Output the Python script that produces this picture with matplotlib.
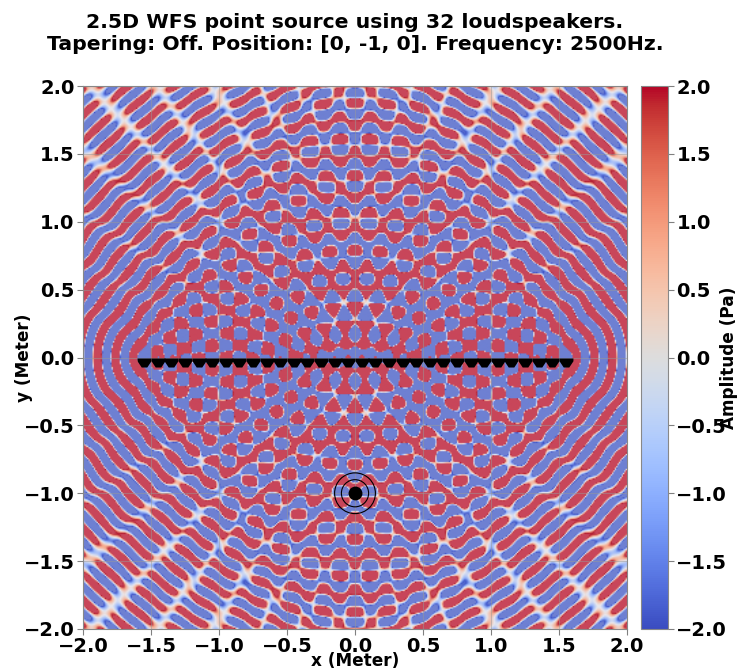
import numpy as np
import matplotlib
matplotlib.use("Agg")
import matplotlib.pyplot as plt
from matplotlib.colors import LinearSegmentedColormap
from matplotlib.path import Path
from matplotlib.patches import Circle

TITLE = "2.5D WFS point source using 32 loudspeakers.\nTapering: Off. Position: [0, -1, 0]. Frequency: 2500Hz."
XLABEL = "x (Meter)"
YLABEL = "y (Meter)"
CBAR_LABEL = "Amplitude (Pa)"
ticks = [-2.0, -1.5, -1.0, -0.5, 0.0, 0.5, 1.0, 1.5, 2.0]
speaker_x = [-1.55, -1.45, -1.35, -1.25, -1.15, -1.05, -0.95, -0.85, -0.75, -0.65, -0.55, -0.45, -0.35, -0.25, -0.15, -0.05,
             0.05, 0.15, 0.25, 0.35, 0.45, 0.55, 0.65, 0.75, 0.85, 0.95, 1.05, 1.15, 1.25, 1.35, 1.45, 1.55]
speaker_y = [0.0] * 32
source_xy = (0.0, -1.0)
frequency = 2500.0
sound_speed = 343.0
ring_radii = [0.1, 0.15]

PHASE = np.radians(60)
GAIN = 9.0
LIMIT = 2.0

k = 2 * np.pi * frequency / sound_speed
axis = np.linspace(-2, 2, 400)
X, Y = np.meshgrid(axis, axis)
p = np.zeros_like(X, dtype=complex)
for sx, sy in zip(speaker_x, speaker_y):
    r0 = np.hypot(sx - source_xy[0], sy - source_xy[1])
    D = np.exp(-1j * k * r0)
    r = np.hypot(X - sx, Y - sy) + 1e-3
    p += D * np.exp(-1j * k * r) / r
field = (p * np.exp(1j * PHASE)).real
field = np.clip(GAIN * field / field.std(), -LIMIT, LIMIT)

field_colors = [(0.0, (110, 128, 210)), (0.075, (62, 84, 200)), (0.25, (150, 180, 250)), (0.5, (232, 232, 238)),
                (0.75, (246, 172, 142)), (0.925, (180, 30, 50)), (1.0, (200, 70, 90))]
field_cmap = LinearSegmentedColormap.from_list("field", [(v, tuple(c / 255 for c in rgb)) for v, rgb in field_colors])

plt.rcParams["font.weight"] = "bold"
plt.rcParams["axes.labelweight"] = "bold"
fig = plt.figure(figsize=(7.39, 6.71), dpi=100)
ax = fig.add_axes([83 / 739, 1 - 629 / 671, 544 / 739, 543 / 671])
im = ax.imshow(field, extent=[-2, 2, -2, 2], origin="lower", cmap=field_cmap, vmin=-2, vmax=2,
               interpolation="bilinear", aspect="auto")
tick_text = [f"{t:.1f}".replace("-", "\u2212") for t in ticks]
ax.set_xticks(ticks)
ax.set_yticks(ticks)
ax.set_xticklabels(tick_text, fontsize=14)
ax.set_yticklabels(tick_text, fontsize=14)
ax.tick_params(color="#808080", length=4, pad=2)
ax.grid(True, color="#999999", alpha=0.5, linewidth=0.8)
for s in ax.spines.values():
    s.set_color("#888888")
ax.set_xlabel(XLABEL, fontsize=12.2, labelpad=-3)
ax.set_ylabel(YLABEL, fontsize=12.2, labelpad=-7)
ax.set_title(TITLE, fontsize=14.7, fontweight="bold", pad=26)

marker = Path([(-1, 0), (1, 0), (1, -0.4), (0.4, -1.3), (-0.4, -1.3), (-1, -0.4), (-1, 0)], closed=True)
ax.plot(speaker_x, speaker_y, ls="none", marker=marker, ms=13, color="black", mew=0, zorder=5)
ax.plot([source_xy[0]], [source_xy[1]], "o", color="black", ms=10, mew=0, zorder=5)
for rr in ring_radii:
    ax.add_patch(Circle(source_xy, rr, fill=False, ec="black", lw=0.8, zorder=5))

cax = fig.add_axes([641 / 739, 1 - 629 / 671, 27 / 739, 543 / 671])
sm = plt.cm.ScalarMappable(norm=plt.Normalize(-2, 2), cmap="coolwarm")
cb = fig.colorbar(sm, cax=cax, ticks=ticks)
cb.ax.set_yticklabels(tick_text, fontsize=14)
cb.ax.tick_params(color="#808080", length=4, pad=2)
cb.outline.set_edgecolor("#888888")
cb.set_label(CBAR_LABEL, fontsize=12.2, labelpad=-5)
fig.savefig("out.png", dpi=100)
